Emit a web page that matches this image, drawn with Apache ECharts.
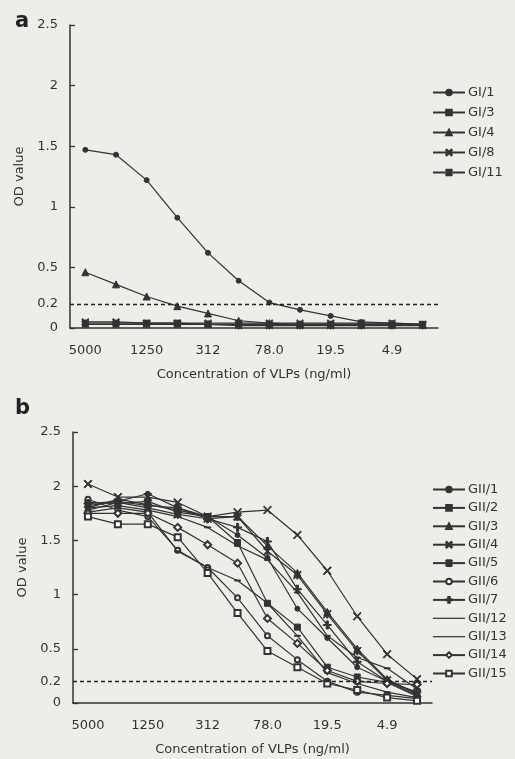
<!DOCTYPE html>
<html><head><meta charset="utf-8">
<script src="https://cdn.jsdelivr.net/npm/echarts@6/dist/echarts.min.js"></script>
<style>html,body{margin:0;padding:0;background:#eceee9;}#c{width:515px;height:759px;}</style>
</head><body><div id="c"></div>
<script>
// ---- data ----
var concentrations = ['5000','2500','1250','625','312','156','78.0','39','19.5','9.8','4.9','2.4'];
var yTicks = [0, 0.2, 0.5, 1, 1.5, 2, 2.5];
var cutoff = 0.2;
var panelLabels = ['a', 'b'];
var xName = 'Concentration of VLPs (ng/ml)';
var yName = 'OD value';

var namesA = ['GI/1', 'GI/3', 'GI/4', 'GI/8', 'GI/11'];
var GI_1  = [1.47, 1.43, 1.22, 0.91, 0.62, 0.39, 0.21, 0.15, 0.10, 0.05, 0.04, 0.03];
var GI_3  = [0.04, 0.04, 0.04, 0.04, 0.03, 0.03, 0.03, 0.03, 0.03, 0.03, 0.03, 0.03];
var GI_4  = [0.46, 0.36, 0.26, 0.18, 0.12, 0.06, 0.04, 0.03, 0.03, 0.03, 0.03, 0.03];
var GI_8  = [0.05, 0.05, 0.04, 0.04, 0.04, 0.04, 0.04, 0.04, 0.04, 0.04, 0.04, 0.03];
var GI_11 = [0.03, 0.03, 0.03, 0.03, 0.03, 0.02, 0.02, 0.02, 0.02, 0.02, 0.02, 0.02];

var namesB = ['GII/1','GII/2','GII/3','GII/4','GII/5','GII/6','GII/7','GII/12','GII/13','GII/14','GII/15'];
var GII_1  = [1.82, 1.86, 1.93, 1.80, 1.72, 1.55, 1.34, 0.87, 0.60, 0.33, 0.20, 0.07];
var GII_2  = [1.85, 1.84, 1.86, 1.76, 1.72, 1.48, 0.92, 0.70, 0.33, 0.24, 0.19, 0.06];
var GII_3  = [1.80, 1.88, 1.83, 1.78, 1.72, 1.72, 1.45, 1.20, 0.84, 0.50, 0.22, 0.08];
var GII_4  = [2.02, 1.90, 1.90, 1.85, 1.72, 1.76, 1.78, 1.55, 1.22, 0.80, 0.45, 0.22];
var GII_5  = [1.78, 1.85, 1.80, 1.74, 1.70, 1.72, 1.40, 1.18, 0.82, 0.48, 0.21, 0.09];
var GII_6  = [1.88, 1.78, 1.72, 1.41, 1.25, 0.97, 0.62, 0.40, 0.20, 0.10, 0.07, 0.04];
var GII_7  = [1.84, 1.86, 1.82, 1.80, 1.70, 1.62, 1.49, 1.05, 0.72, 0.38, 0.20, 0.10];
var GII_12 = [1.80, 1.82, 1.78, 1.72, 1.62, 1.45, 1.32, 1.02, 0.62, 0.42, 0.32, 0.13];
var GII_13 = [1.76, 1.80, 1.76, 1.40, 1.25, 1.13, 0.92, 0.62, 0.28, 0.18, 0.10, 0.05];
var GII_14 = [1.75, 1.75, 1.75, 1.62, 1.46, 1.29, 0.78, 0.55, 0.30, 0.20, 0.18, 0.17];
var GII_15 = [1.72, 1.65, 1.65, 1.53, 1.20, 0.83, 0.48, 0.33, 0.18, 0.12, 0.05, 0.02];

var dataA = [GI_1, GI_3, GI_4, GI_8, GI_11];
var dataB = [GII_1, GII_2, GII_3, GII_4, GII_5, GII_6, GII_7, GII_12, GII_13, GII_14, GII_15];

// ---- styles ----
var ink = '#333';
var FONT = 'DejaVu Sans';
var X_PATH = 'path://M1,0 L5,4 L9,0 L10,1 L6,5 L10,9 L9,10 L5,6 L1,10 L0,9 L4,5 L0,1 Z';
var AST_PATH = 'path://M1,0 L5,4 L9,0 L10,1 L6,5 L10,9 L9,10 L5,6 L1,10 L0,9 L4,5 L0,1 Z M4.3,0 L5.7,0 L5.7,10 L4.3,10 Z';
var PLUS_PATH = 'path://M4.2,0 L5.8,0 L5.8,4.4 L8,4.4 L8,5.6 L5.8,5.6 L5.8,10 L4.2,10 L4.2,5.6 L2,5.6 L2,4.4 L4.2,4.4 Z';
var DASH_PATH = 'path://M0,0 L10,0 L10,1.6 L0,1.6 Z';
var LINE_ICON = 'path://M0,0 L40,0 L40,0.4 L0,0.4 Z';
var symA = [['circle',5],['rect',6],['triangle',7],[X_PATH,7],[AST_PATH,7]];
var symB = [['circle',5],['rect',6],['triangle',7],[X_PATH,8],[AST_PATH,8],['emptyCircle',5],[PLUS_PATH,8],[DASH_PATH,6],[DASH_PATH,6],['emptyDiamond',7],['emptyRect',6]];

function mkSeries(names, data, syms, idx) {
  return names.map(function (n, i) {
    var s = {
      name: n, type: 'line', xAxisIndex: idx, yAxisIndex: idx,
      data: data[i], symbol: syms[i][0], symbolSize: syms[i][1],
      symbolKeepAspect: syms[i][0] === DASH_PATH,
      lineStyle: {color: ink, width: 1.2},
      itemStyle: {color: ink, borderColor: ink, borderWidth: 1},
      emphasis: {disabled: true}, animation: false, z: 3
    };
    if (i === 0) {
      s.markLine = {
        silent: true, symbol: 'none', animation: false,
        lineStyle: {color: '#222', type: [4, 3], width: 1.3},
        label: {show: false},
        data: [{yAxis: cutoff}]
      };
    }
    return s;
  });
}

function legendData(names, syms) {
  return names.map(function (n, i) {
    return syms[i][0] === DASH_PATH ? {name: n, icon: LINE_ICON, itemStyle: {borderWidth: 0.8}} : {name: n};
  });
}

function xAx(idx) {
  return {
    gridIndex: idx, type: 'category', data: concentrations, boundaryGap: true,
    name: xName, nameLocation: 'middle', nameGap: 40,
    nameTextStyle: {color: ink, fontSize: 13, fontFamily: FONT},
    axisLine: {lineStyle: {color: ink, width: 1.5}},
    axisTick: {inside: true, length: 5, interval: 0, lineStyle: {color: ink, width: 1.3}},
    axisLabel: {interval: 1, margin: 16, color: ink, fontSize: 13, fontFamily: FONT},
    splitLine: {show: false}
  };
}
function yAx(idx) {
  return {
    gridIndex: idx, type: 'value', min: 0, max: 2.5, interval: 0.5,
    name: yName, nameLocation: 'middle', nameGap: 42, nameRotate: 90,
    nameTextStyle: {color: ink, fontSize: 13, fontFamily: FONT},
    axisLine: {show: true, lineStyle: {color: ink, width: 1.5}},
    axisTick: {show: true, inside: true, length: 5, lineStyle: {color: ink, width: 1.3}},
    axisLabel: {customValues: yTicks, margin: 12, color: ink, fontSize: 13, fontFamily: FONT},
    splitLine: {show: false}
  };
}

var chart = echarts.init(document.getElementById('c'), null, {renderer: 'canvas'});
chart.setOption({
  backgroundColor: '#eceee9',
  animation: false,
  title: [
    {text: panelLabels[0], left: 10, top: 6, textStyle: {fontSize: 21, fontWeight: 'bold', color: '#222', fontFamily: FONT}},
    {text: panelLabels[1], left: 10, top: 393, textStyle: {fontSize: 21, fontWeight: 'bold', color: '#222', fontFamily: FONT}}
  ],
  grid: [
    {left: 70, top: 25, width: 368, height: 303},
    {left: 73, top: 432, width: 359, height: 271}
  ],
  xAxis: [xAx(0), xAx(1)],
  yAxis: [yAx(0), yAx(1)],
  legend: [
    {data: legendData(namesA, symA), orient: 'vertical', left: 432, top: 86, padding: 0, itemWidth: 32, itemHeight: 7, itemGap: 7,
     textStyle: {color: ink, fontSize: 13, fontFamily: FONT, padding: [0, 0, 0, -2]}, selectedMode: false},
    {data: legendData(namesB, symB), orient: 'vertical', left: 432, top: 483, padding: 0, itemWidth: 32, itemHeight: 7, itemGap: 5.4,
     textStyle: {color: ink, fontSize: 13, fontFamily: FONT, padding: [0, 0, 0, -2]}, selectedMode: false}
  ],
  series: mkSeries(namesA, dataA, symA, 0).concat(mkSeries(namesB, dataB, symB, 1))
});
</script>
</body></html>
